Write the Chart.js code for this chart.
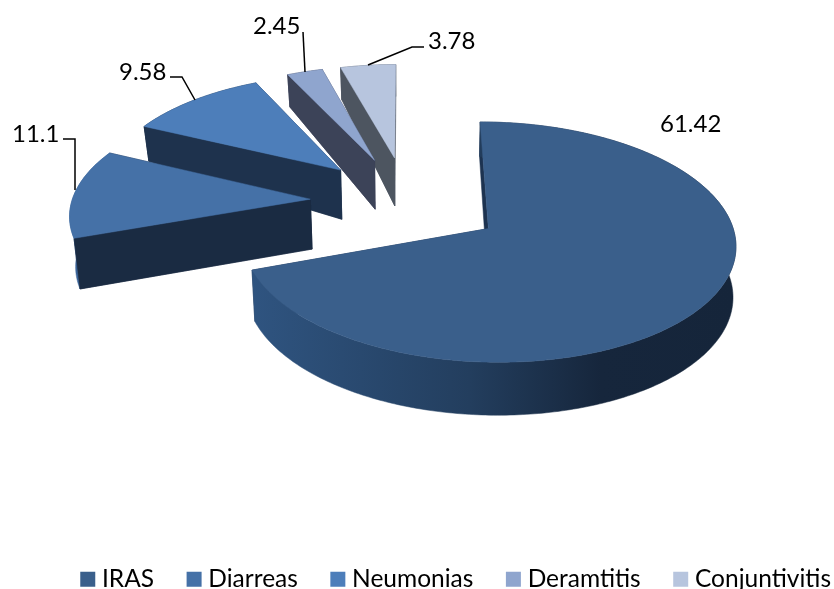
<!DOCTYPE html>
<html>
<head>
<meta charset="utf-8">
<style>html,body{margin:0;padding:0;background:#fff}#wrap{width:834px;height:589px}</style>
<script src="https://cdn.jsdelivr.net/npm/chart.js@4/dist/chart.umd.min.js"></script>
</head>
<body>
<div id="wrap"><canvas id="c" width="834" height="589"></canvas></div>
<script>
const categories = ['IRAS', 'Diarreas', 'Neumonias', 'Deramtitis', 'Conjuntivitis'];
const values = [61.42, 11.1, 9.58, 2.45, 3.78];

const topColors  = ['#3a5f8b', '#4571a7', '#4d7eba', '#8fa5ce', '#b7c5de'];
const wallColors = ['#1d3350', '#1a2b42', '#1e324d', '#3c4358', '#4d5560'];
const rimColors  = ['#2f5480', '#3a6499', '#1e324d', '#3c4358', '#4d5560'];

// Reading of the 3D view (ground plane → screen)
const VIEW = {ox: 407, oy: 201.5, vy: -825, a: 0.00046, leanLeft: 0.018, leanRight: 0.009};
const DEPTH_S = [0.87, 0.93, 0.96, 1.0, 1.16];
const DEPTH_D = [32, 35, 49, 50, 53];

const labelLayout = [
  {x: 660, y: 124, line: []},
  {x: 12,  y: 134, line: [[63,139],[75,139],[75,190]]},
  {x: 119, y: 72,  line: [[170,77],[182,77],[195,100]]},
  {x: 253, y: 26,  line: [[303,32],[305,72]]},
  {x: 428, y: 41,  line: [[368,65],[412,47],[424,47]]}
];
const FONT = 'Lato, Carlito, sans-serif';
const LEGEND_CENTER_Y = 581;
const LEGEND_RIGHT_SHIFT = 35;
const LEGEND_PADDING = 38;

function depthAt(s) {
  if (s <= DEPTH_S[0]) return DEPTH_D[0];
  for (let i = 1; i < DEPTH_S.length; i++) {
    if (s <= DEPTH_S[i]) {
      const t = (s - DEPTH_S[i-1]) / (DEPTH_S[i] - DEPTH_S[i-1]);
      return DEPTH_D[i-1] + t * (DEPTH_D[i] - DEPTH_D[i-1]);
    }
  }
  return DEPTH_D[DEPTH_D.length - 1];
}
function project(u, v, z) {
  const s = 1 / (1 - VIEW.a * v);
  let x = VIEW.ox + u * s;
  let y = VIEW.vy + (VIEW.oy - VIEW.vy) * s;
  if (z) { y += depthAt(s); x += (VIEW.ox - x) * (x > VIEW.ox ? VIEW.leanRight : VIEW.leanLeft); }
  return [x, y];
}
function poly(ctx, pts, fill) {
  ctx.beginPath();
  pts.forEach((p, i) => i ? ctx.lineTo(p[0], p[1]) : ctx.moveTo(p[0], p[1]));
  ctx.closePath();
  ctx.fillStyle = fill;
  ctx.fill();
  ctx.strokeStyle = fill;
  ctx.lineWidth = 0.5;
  ctx.stroke();
}
function drawSlice(ctx, arc, i) {
  const R = arc.outerRadius;
  const start = arc.startAngle, end = arc.endAngle, mid = (start + end) / 2;
  const e = arc.options.offset;
  const cu = Math.cos(mid) * e, cv = Math.sin(mid) * e;
  const n = Math.max(4, Math.ceil((end - start) / 0.015));
  const at = (phi, z) => project(cu + R * Math.cos(phi), cv + R * Math.sin(phi), z);
  const apexT = project(cu, cv, 0), apexB = project(cu, cv, 1);
  const topArc = [], botArc = [];
  for (let k = 0; k <= n; k++) {
    const phi = start + (end - start) * k / n;
    topArc.push(at(phi, 0));
    botArc.push(at(phi, 1));
  }
  // radial walls
  poly(ctx, [apexT, topArc[0], botArc[0], apexB], wallColors[i]);
  poly(ctx, [apexT, topArc[n], botArc[n], apexB], wallColors[i]);
  // outer rim
  let rim = rimColors[i];
  if (i === 0) {
    const g = ctx.createLinearGradient(252, 0, 736, 0);
    g.addColorStop(0, '#2f5480');
    g.addColorStop(0.45, '#233e5e');
    g.addColorStop(0.72, '#16263c');
    g.addColorStop(1, '#15253a');
    rim = g;
  }
  poly(ctx, topArc.concat(botArc.slice().reverse()), rim);
  if (i !== 0) poly(ctx, [apexT, topArc[0], botArc[0], apexB], wallColors[i]);
  // top face
  poly(ctx, [apexT].concat(topArc), arc.options.backgroundColor);
}

const pie3d = {
  id: 'pie3d',
  afterLayout(chart) {
    const lg = chart.legend;
    const dy = LEGEND_CENTER_Y - (lg.top + LEGEND_PADDING + 14);
    lg.top += dy;
    lg.bottom += dy;
    lg.right += LEGEND_RIGHT_SHIFT;
    lg.left += LEGEND_RIGHT_SHIFT;
  },
  beforeDatasetsDraw(chart) {
    const ctx = chart.ctx;
    const arcs = chart.getDatasetMeta(0).data;
    ctx.save();
    for (let i = arcs.length - 1; i >= 0; i--) drawSlice(ctx, arcs[i], i);
    ctx.fillStyle = '#000';
    ctx.font = '24px ' + FONT;
    ctx.textBaseline = 'middle';
    ctx.textAlign = 'left';
    labelLayout.forEach((l, i) => {
      ctx.fillText(String(values[i]), l.x, l.y);
      if (l.line.length) {
        ctx.beginPath();
        l.line.forEach((p, k) => k ? ctx.lineTo(p[0], p[1]) : ctx.moveTo(p[0], p[1]));
        ctx.strokeStyle = '#000';
        ctx.lineWidth = 1.5;
        ctx.stroke();
      }
    });
    ctx.restore();
    return false;
  }
};

new Chart(document.getElementById('c'), {
  type: 'pie',
  data: {
    labels: categories,
    datasets: [{data: values, backgroundColor: topColors, borderWidth: 0, offset: 97}]
  },
  options: {
    responsive: false,
    animation: false,
    radius: 238.5,
    plugins: {
      tooltip: {enabled: false},
      legend: {
        position: 'bottom',
        align: 'end',
        labels: {
          color: '#000',
          font: {family: FONT, size: 24.5},
          usePointStyle: true,
          pointStyle: 'rect',
          boxWidth: 4,
          boxHeight: 15,
          padding: LEGEND_PADDING
        }
      }
    }
  },
  plugins: [pie3d]
});
</script>
</body>
</html>
